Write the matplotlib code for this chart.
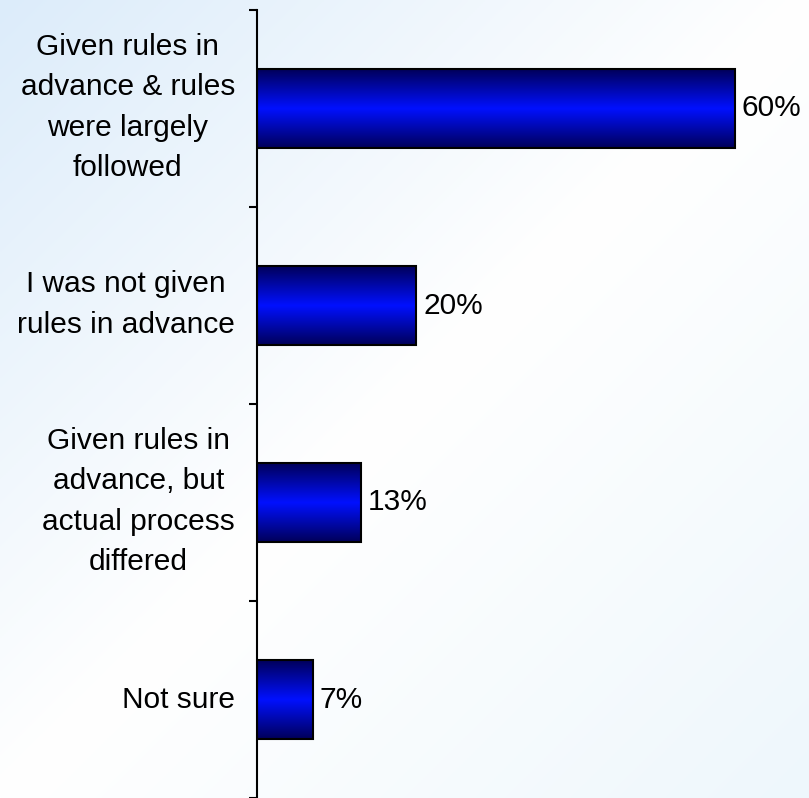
import numpy as np
import matplotlib
matplotlib.use("Agg")
import matplotlib.pyplot as plt
import matplotlib.transforms as mtransforms
from matplotlib.colors import LinearSegmentedColormap

categories = [
    "Given rules in\nadvance & rules\nwere largely\nfollowed",
    "I was not given\nrules in advance",
    "Given rules in\nadvance, but\nactual process\ndiffered",
    "Not sure",
]
values = [60, 20, 13, 7]
value_labels = ["60%", "20%", "13%", "7%"]

plt.rcParams["font.family"] = ["Liberation Sans", "DejaVu Sans"]

W, H = 809, 798
fig = plt.figure(figsize=(W / 100, H / 100), dpi=100)

# Diagonal background wash: pale blue in the top-left, white across the middle,
# faint blue again toward the bottom-right
bg = fig.add_axes([0, 0, 1, 1], zorder=-10)
xx, yy = np.meshgrid(np.linspace(0, 1, 400), np.linspace(0, 1, 400))
t = xx + yy - 1.0
top = np.array([220, 236, 250]) / 255.0
low = np.array([238, 247, 252]) / 255.0
white = np.array([1.0, 1.0, 1.0])
a = np.clip(-t, 0, 1)[..., None]
b = np.clip(t, 0, 1)[..., None]
img = white * (1 - a - b) + top * a + low * b
bg.imshow(img, extent=[0, 1, 0, 1], aspect="auto", origin="upper")
bg.axis("off")

left = 257 / W
top_frac = 1 - 10 / H
ax = fig.add_axes([left, 0.0, 1.0 - left, top_frac])
ax.patch.set_alpha(0)

n = len(categories)
ypos = np.arange(n)
half_h = 0.2
xmax = (W - 257) / (478 / 60)

# Vertical gradient fill: navy at the edges, bright blue at the centre
grad_cmap = LinearSegmentedColormap.from_list(
    "bar", [(0.0, "#00005a"), (0.5, "#0010ff"), (1.0, "#00005a")]
)
grad = np.linspace(0, 1, 256).reshape(-1, 1)
for y, v, lab in zip(ypos, values, value_labels):
    ax.imshow(grad, cmap=grad_cmap, aspect="auto",
              extent=[0, v, y + half_h, y - half_h], zorder=2, interpolation="bilinear")
    ax.barh(y, v, height=half_h * 2, color="none", edgecolor="black", linewidth=1.5, zorder=3)
    ax.text(v + 0.85, y, lab, va="center", ha="left", fontsize=21.5, color="black")

ax.set_ylim(n - 0.5, -0.5)
ax.set_xlim(0, xmax)

for s in ["top", "right", "bottom"]:
    ax.spines[s].set_visible(False)
ax.spines["left"].set_linewidth(1.5)
ax.set_xticks([])

# Tick marks sit on the category boundaries
ax.set_yticks(np.arange(n + 1) - 0.5)
ax.set_yticklabels([])
ax.tick_params(axis="y", which="major", length=6, width=1.5, direction="out")

# Category labels, right-aligned to the axis with centred lines
base = mtransforms.blended_transform_factory(ax.transAxes, ax.transData)
for y, cat in zip(ypos, categories):
    dy = 1 if "\n" in cat else 0
    tr = base + mtransforms.ScaledTranslation(-22 / 100, dy / 100, fig.dpi_scale_trans)
    ax.text(0, y, cat, transform=tr, ha="right", va="center", multialignment="center",
            fontsize=21.5, linespacing=1.57, color="black")

fig.savefig("out.png", dpi=100)
